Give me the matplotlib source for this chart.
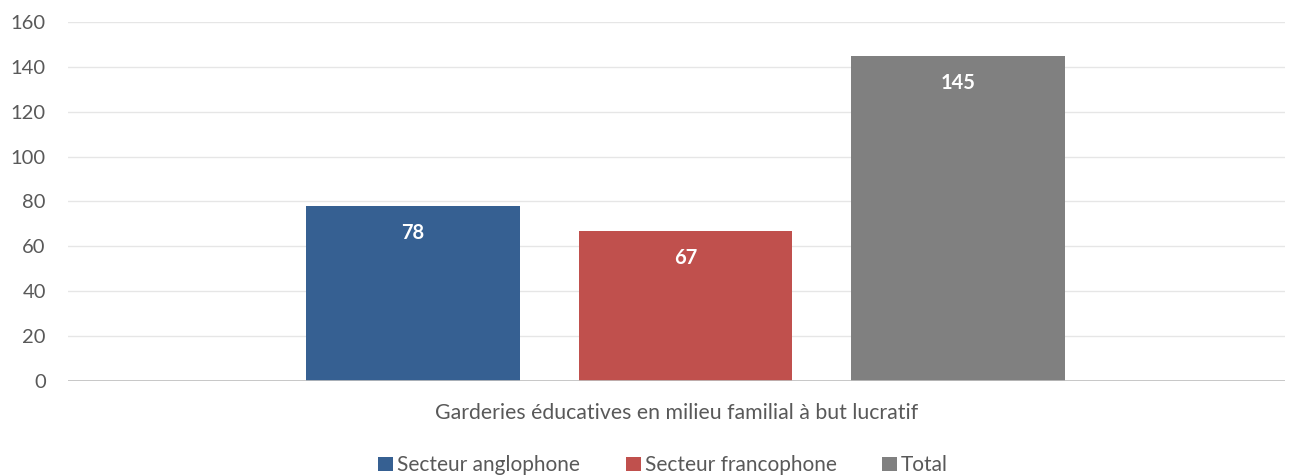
import matplotlib.pyplot as plt
import numpy as np

plt.rcParams['font.family'] = ['Lato', 'DejaVu Sans']

series = ["Secteur anglophone", "Secteur francophone", "Total"]
values = [78, 67, 145]
colors = ["#366092", "#C0504D", "#808080"]
category = "Garderies éducatives en milieu familial à but lucratif"
yticks = [0, 20, 40, 60, 80, 100, 120, 140, 160]

fig = plt.figure(figsize=(12.93, 4.76), dpi=100)
ax = fig.add_axes([0.0526, 0.1996, 0.9412, 0.7542])

x = np.arange(len(values))
bars = ax.bar(x, values, width=0.785, color=colors, label=series, zorder=3)

for b, v in zip(bars, values):
    ax.annotate(str(v), (b.get_x() + b.get_width() / 2, v), xytext=(0, -19.5),
                textcoords="offset points", ha="center", va="center",
                color="white", fontsize=14.5, fontweight="bold", zorder=4)

ax.set_xlim(-1.266, 3.2)
ax.set_ylim(0, 160)
ax.set_yticks(yticks)
ax.grid(axis="y", color="#E6E6E6", lw=1, zorder=0)
ax.axhline(0, color="#BFBFBF", lw=1.2, zorder=5)
for s in ax.spines.values():
    s.set_visible(False)
ax.tick_params(axis="y", length=0, pad=16, labelsize=14.5, labelcolor="#595959")
ax.set_xticks([])
ax.text(0.5, -0.09, category, transform=ax.transAxes, ha="center", va="center",
        fontsize=15.3, color="#595959")

fig.legend(handles=bars, labels=series, loc="lower center", ncol=3,
           bbox_to_anchor=(0.513, -0.038), frameon=False, fontsize=15,
           labelcolor="#595959", handlelength=0.7, handleheight=0.7,
           handletextpad=0.2, columnspacing=2.2)

fig.savefig("out.png", dpi=100)
